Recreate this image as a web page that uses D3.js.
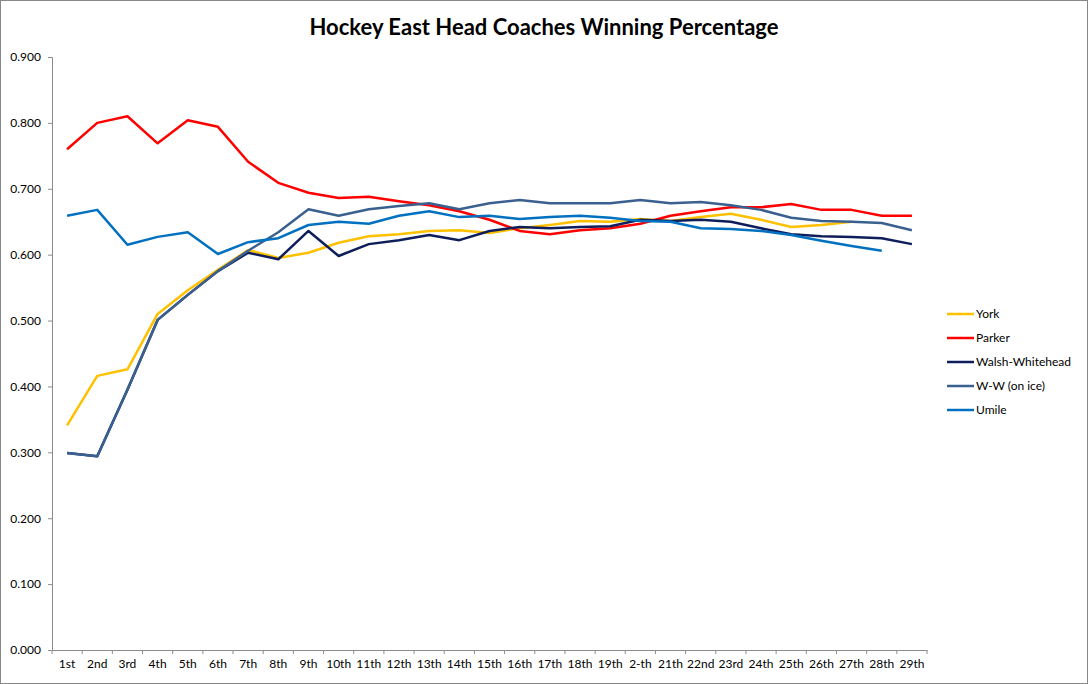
<!DOCTYPE html>
<html lang="en">
<head>
<meta charset="utf-8">
<title>Hockey East Head Coaches Winning Percentage</title>
<script src="https://d3js.org/d3.v7.min.js"></script>
<style>
  * { margin:0; padding:0; box-sizing:border-box; }
  body { background:#fff; width:1088px; height:684px; overflow:hidden; font-family:Lato, 'Open Sans', sans-serif; }
  svg text { fill:#000; }
</style>
</head>
<body>
<div id="chart"></div>
<script>
const categories = ['1st','2nd','3rd','4th','5th','6th','7th','8th','9th','10th','11th','12th','13th','14th','15th',
  '16th','17th','18th','19th','2-th','21th','22nd','23rd','24th','25th','26th','27th','28th','29th'];
const yTicks = [0, 0.1, 0.2, 0.3, 0.4, 0.5, 0.6, 0.7, 0.8, 0.9];

const york = [0.341,0.416,0.426,0.510,0.546,0.577,0.607,0.595,0.603,0.618,0.628,0.631,0.636,0.637,0.633,
  0.640,0.645,0.651,0.650,0.654,0.651,0.657,0.662,0.653,0.642,0.645,0.650];
const parker = [0.760,0.800,0.810,0.769,0.804,0.794,0.741,0.709,0.694,0.686,0.688,0.681,0.675,0.666,0.653,
  0.636,0.631,0.637,0.640,0.647,0.659,0.666,0.672,0.672,0.677,0.668,0.668,0.659,0.659];
const walshWhitehead = [0.299,0.294,0.395,0.501,0.539,0.575,0.603,0.593,0.636,0.598,0.616,0.622,0.630,0.622,0.636,
  0.642,0.640,0.642,0.643,0.653,0.651,0.653,0.650,0.640,0.631,0.628,0.627,0.625,0.616];
const wwOnIce = [0.299,0.294,0.395,0.501,0.539,0.575,0.606,0.634,0.669,0.659,0.669,0.674,0.678,0.669,0.678,
  0.683,0.678,0.678,0.678,0.683,0.678,0.680,0.675,0.668,0.656,0.651,0.650,0.648,0.637];
const umile = [0.659,0.668,0.615,0.627,0.634,0.601,0.619,0.625,0.645,0.650,0.647,0.659,0.666,0.657,0.659,
  0.654,0.657,0.659,0.656,0.651,0.650,0.640,0.639,0.636,0.630,0.621,0.613,0.606];

const seriesNames = ['York','Parker','Walsh-Whitehead','W-W (on ice)','Umile'];
const seriesValues = [york, parker, walshWhitehead, wwOnIce, umile];
const seriesColors = ['#FFC000','#FF0000','#0E1E5B','#3A6090','#0070C0'];

const W = 1088, H = 684;
const plot = { left:52, right:927, top:57, bottom:650 };

const svg = d3.select('#chart').append('svg')
  .attr('width', W).attr('height', H);

svg.append('rect')
  .attr('x', 0.5).attr('y', 0.5).attr('width', W - 1).attr('height', H - 1)
  .attr('fill', '#fff').attr('stroke', '#888').attr('stroke-width', 1);

svg.append('text')
  .attr('x', 544).attr('y', 35)
  .attr('text-anchor', 'middle')
  .style('font-size', '22px').style('font-weight', 'bold')
  .text('Hockey East Head Coaches Winning Percentage');

const x = d3.scaleBand().domain(categories).range([plot.left, plot.right]);
const y = d3.scaleLinear().domain([0, 0.9]).range([plot.bottom, plot.top]);

// y axis
const yAxis = svg.append('g')
  .attr('transform', `translate(${plot.left},0)`)
  .call(d3.axisLeft(y).tickValues(yTicks).tickFormat(d3.format('.3f')).tickSize(4).tickPadding(7));
yAxis.select('.domain').attr('stroke', '#8c8c8c');
yAxis.selectAll('.tick line').attr('stroke', '#8c8c8c');
yAxis.selectAll('text').style('font-size', '12px').style('font-family', 'Lato, sans-serif');

// x axis, ticks at category boundaries
const xAxis = svg.append('g')
  .attr('transform', `translate(0,${plot.bottom})`)
  .call(d3.axisBottom(x).tickSize(0).tickPadding(9));
xAxis.select('.domain').attr('stroke', '#8c8c8c');
xAxis.selectAll('text').style('font-size', '12px').style('font-family', 'Lato, sans-serif');
xAxis.selectAll('line.bound')
  .data(d3.range(categories.length + 1))
  .join('line')
  .attr('class', 'bound')
  .attr('x1', i => plot.left + i * x.step()).attr('x2', i => plot.left + i * x.step())
  .attr('y1', 0).attr('y2', 4)
  .attr('stroke', '#8c8c8c');

// lines
const line = d3.line()
  .x((d, i) => x(categories[i]) + x.bandwidth() / 2)
  .y(d => y(d));

svg.append('g').selectAll('path')
  .data(seriesValues)
  .join('path')
  .attr('d', d => line(d))
  .attr('fill', 'none')
  .attr('stroke', (d, i) => seriesColors[i])
  .attr('stroke-width', 2.5)
  .attr('stroke-linejoin', 'round');

// legend
const legend = svg.append('g').attr('transform', 'translate(947,314)');
const item = legend.selectAll('g')
  .data(seriesNames)
  .join('g')
  .attr('transform', (d, i) => `translate(0,${i * 24})`);
item.append('line')
  .attr('x1', 0).attr('x2', 27).attr('y1', 0).attr('y2', 0)
  .attr('stroke', (d, i) => seriesColors[i]).attr('stroke-width', 2.5);
item.append('text')
  .attr('x', 29).attr('y', 4)
  .style('font-size', '12px')
  .text(d => d);
</script>
</body>
</html>
